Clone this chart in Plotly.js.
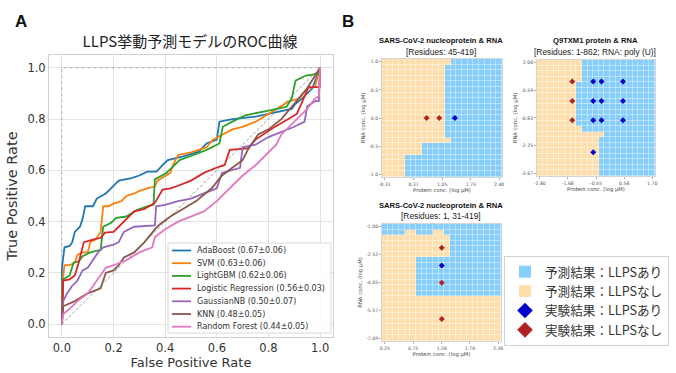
<!DOCTYPE html>
<html><head><meta charset="utf-8">
<script src="https://cdn.plot.ly/plotly-3.0.1.min.js"></script>
<style>html,body{margin:0;padding:0;background:#fff;}#chart{width:676px;height:373px;}</style>
</head><body><div id="chart"></div>
<script>
// ---------------- Panel A : ROC data ----------------
const rocTitle = 'LLPS挙動予測モデルのROC曲線';
const rocNames = ['AdaBoost (0.67±0.06)','SVM (0.63±0.06)','LightGBM (0.62±0.06)','Logistic Regression (0.56±0.03)','GaussianNB (0.50±0.07)','KNN (0.48±0.05)','Random Forest (0.44±0.05)'];
const rocColors = ['#1f77b4','#ff7f0e','#2ca02c','#d62728','#9467bd','#8c564b','#e377c2'];

const adaX = [0,0,0.01,0.03,0.04,0.05,0.07,0.08,0.09,0.12,0.135,0.17,0.19,0.22,0.27,0.30,0.33,0.366,0.39,0.41,0.47,0.53,0.56,0.60,0.61,0.66,0.75,0.84,0.89,0.905,0.93,0.97,1.0];
const adaY = [0,0.22,0.30,0.305,0.32,0.36,0.38,0.41,0.46,0.46,0.49,0.51,0.53,0.56,0.57,0.58,0.595,0.595,0.62,0.64,0.655,0.673,0.705,0.72,0.79,0.80,0.81,0.83,0.84,0.86,0.88,0.92,1.0];

const svmX = [0,0.003,0.01,0.03,0.05,0.06,0.08,0.10,0.11,0.13,0.15,0.16,0.18,0.20,0.23,0.25,0.28,0.30,0.33,0.36,0.37,0.40,0.42,0.43,0.45,0.50,0.53,0.56,0.585,0.62,0.66,0.70,0.75,0.80,0.85,0.88,0.92,0.95,0.98,1.0];
const svmY = [0,0.17,0.23,0.23,0.24,0.27,0.28,0.28,0.32,0.33,0.36,0.46,0.46,0.47,0.48,0.50,0.51,0.52,0.53,0.537,0.56,0.58,0.59,0.62,0.66,0.67,0.68,0.69,0.72,0.74,0.76,0.77,0.79,0.82,0.85,0.87,0.88,0.92,0.925,1.0];

const lgbX = [0,0.005,0.03,0.045,0.065,0.08,0.11,0.13,0.15,0.16,0.19,0.21,0.25,0.29,0.33,0.355,0.36,0.405,0.43,0.456,0.51,0.56,0.61,0.623,0.66,0.71,0.81,0.87,0.89,0.905,0.945,0.995,1.0];
const lgbY = [0,0.175,0.19,0.24,0.245,0.265,0.28,0.285,0.29,0.38,0.395,0.415,0.42,0.445,0.46,0.466,0.565,0.59,0.615,0.64,0.66,0.68,0.705,0.77,0.79,0.815,0.835,0.848,0.88,0.95,0.97,0.977,1.0];

const lrX = [0,0.005,0.03,0.05,0.065,0.085,0.12,0.15,0.167,0.20,0.22,0.25,0.28,0.32,0.36,0.39,0.42,0.45,0.50,0.55,0.61,0.63,0.65,0.72,0.75,0.816,0.88,0.91,0.945,0.955,0.998,1.0];
const lrY = [0,0.17,0.175,0.19,0.24,0.32,0.33,0.337,0.357,0.36,0.38,0.41,0.44,0.45,0.473,0.525,0.53,0.54,0.56,0.59,0.615,0.62,0.68,0.686,0.72,0.764,0.80,0.82,0.90,0.925,0.925,1.0];

const gnbX = [0,0.005,0.02,0.04,0.06,0.08,0.10,0.12,0.14,0.16,0.20,0.22,0.24,0.28,0.36,0.365,0.40,0.45,0.50,0.55,0.60,0.62,0.66,0.69,0.70,0.75,0.80,0.85,0.90,0.94,0.95,0.98,0.995,1.0];
const gnbY = [0,0.09,0.12,0.15,0.17,0.21,0.22,0.25,0.28,0.30,0.31,0.32,0.36,0.38,0.385,0.46,0.465,0.48,0.49,0.51,0.53,0.59,0.60,0.61,0.69,0.70,0.73,0.75,0.77,0.79,0.85,0.87,0.87,1.0];

const knnX = [0,0.005,0.05,0.10,0.15,0.17,0.20,0.22,0.24,0.28,0.32,0.36,0.38,0.42,0.47,0.52,0.58,0.62,0.66,0.70,0.72,0.76,0.80,0.85,0.90,0.95,1.0];
const knnY = [0,0.07,0.09,0.12,0.14,0.20,0.21,0.23,0.26,0.28,0.32,0.37,0.39,0.42,0.45,0.48,0.53,0.58,0.61,0.64,0.68,0.74,0.76,0.80,0.86,0.92,1.0];

const rfX = [0,0.005,0.03,0.06,0.10,0.12,0.15,0.17,0.20,0.25,0.30,0.35,0.36,0.40,0.45,0.50,0.55,0.60,0.65,0.70,0.75,0.80,0.83,0.85,0.90,0.95,0.98,0.995,1.0];
const rfY = [0,0.04,0.06,0.09,0.12,0.15,0.19,0.22,0.23,0.25,0.28,0.30,0.34,0.37,0.40,0.42,0.44,0.48,0.53,0.58,0.62,0.67,0.70,0.74,0.79,0.84,0.88,0.89,1.0];

const chanceX = [0,1], chanceY = [0,1];
const perfectX = [0,0,1], perfectY = [0,1,1];
const rocTicks = [0,0.2,0.4,0.6,0.8,1.0];

// ---------------- Panel B : phase diagram data ----------------
// heatmap 1 : number of "no LLPS" (orange) cells from the left, rows top -> bottom
const hm1Title = 'SARS-CoV-2 nucleoprotein &amp; RNA', hm1Sub = '[Residues: 45-419]';
const hm1XEnds = [-0.31, 2.40], hm1YEnds = [-1.0, 1.0];
const hm1XTicks = ['-0.31','0.37','1.05','1.73','2.40'];
const hm1YTicks = ['1.0','0.5','0.0','-0.5','-1.0'];
const hm1Orange = [12,11,11,11,11,11,11,11,11,11,11,11,11,11,12,7,7,4,4,4,4];
const hm1PosX = [1.35], hm1PosY = [0.0];
const hm1NegX = [0.68, 0.98], hm1NegY = [0.0, 0.0];

// heatmap 2
const hm2Title = 'Q9TXM1 protein &amp; RNA', hm2Sub = '[Residues: 1-862; RNA: poly (U)]';
const hm2XEnds = [-2.80, 1.70], hm2YEnds = [-3.67, 2.00];
const hm2XTicks = ['-2.80','-1.68','-0.55','0.58','1.70'];
const hm2YTicks = ['2.00','0.59','-0.83','-2.25','-3.67'];
const hm2Orange = [8,8,8,8,7,7,7,7,7,7,7,7,8,12,11,11,11,11,11,11,11];
const hm2PosX = [-0.66,-0.33,0.53,-0.66,-0.33,0.53,-0.66,-0.33,0.53,-0.66];
const hm2PosY = [1.04,1.04,1.04,0.04,0.04,0.04,-0.95,-0.95,-0.95,-2.59];
const hm2NegX = [-1.50,-1.50,-1.50], hm2NegY = [1.04,0.04,-0.95];

// heatmap 3 : O = no LLPS (orange), B = LLPS (blue), rows top -> bottom
const hm3Title = 'SARS-CoV-2 nucleoprotein &amp; RNA', hm3Sub = '[Residues: 1, 31-419]';
const hm3XEnds = [0.25, 2.26], hm3YEnds = [-7.09, -1.00];
const hm3XTicks = ['0.25','0.75','1.26','1.76','2.26'];
const hm3YTicks = ['-1.00','-2.52','-4.05','-5.57','-7.09'];
const hm3Rows = [
 'BBBBBBBBBBBBBBBBBBBBB',
 'BBBBOOBBBOOBBBBBBBBBB',
 'OOOOOOOOOOOOBBBBBBBBB',
 'OOOOOOOOOOOOBBBBBBBBB',
 'OOOOOOOOOOOOBBBBBBBBB',
 'OOOOOOOOOOOOBBBBBBBBB',
 'OOOOOOBBBBBBBBBBBBBBB',
 'OOOOOOBBBBBBBBBBBBBBB',
 'OOOOOOBBBBBBBBBBBBBBB',
 'OOOOOOBBBBBBBBBBBBBBB',
 'OOOOOOBBBBBBBBBBBBBBB',
 'OOOOOOBBBBBBBBBBBBBBB',
 'OOOOOOBBBBBBBBBBBBBBB',
 'OOOOOOOOOOOOOOOOOOOOO',
 'OOOOOOOOOOOOOOOOOOOOO',
 'OOOOOOOOOOOOOOOOOOOOO',
 'OOOOOOOOOOOOOOOOOOOOO',
 'OOOOOOOOOOOOOOOOOOOOO',
 'OOOOOOOOOOOOOOOOOOOOO',
 'OOOOOOOOOOOOOOOOOOOOO',
 'OOOOOOOOOOOOOOOOOOOOO'];
const hm3PosX = [1.26], hm3PosY = [-3.11];
const hm3NegX = [1.26,1.26,1.26], hm3NegY = [-2.14,-4.06,-6.04];

const legendLabels = ['予測結果：LLPSあり','予測結果：LLPSなし','実験結果：LLPSあり','実験結果：LLPSなし'];
const xTitleB = 'Protein conc. (log μM)', yTitleB = 'RNA conc. (log μM)';

// ---------------- styling ----------------
const W = 676, H = 373;
const px = p => p / W, py = p => 1 - p / H;
const C_BLUE_CELL = '#87CEFA', C_ORANGE_CELL = '#FFDEAD';
const C_POS = '#0000CD', C_NEG = '#B22222';
const N = 21;

function zFromCounts(counts) { // rows top->bottom -> z bottom->top
  return counts.map(n => Array.from({length: N}, (_, j) => j < n ? 0 : 1)).reverse();
}
function zFromRows(rows) {
  return rows.map(r => r.split('').map(c => c === 'O' ? 0 : 1)).reverse();
}

const traces = [];
const rocX = [adaX, svmX, lgbX, lrX, gnbX, knnX, rfX];
const rocY = [adaY, svmY, lgbY, lrY, gnbY, knnY, rfY];

traces.push({x: perfectX, y: perfectY, mode: 'lines', line: {color: 'rgba(0,0,0,0.35)', width: 0.7, dash: 'dot'}, showlegend: false, hoverinfo: 'skip', xaxis: 'x', yaxis: 'y'});
traces.push({x: chanceX, y: chanceY, mode: 'lines', line: {color: 'rgba(0,0,0,0.55)', width: 0.7, dash: '3px,2px'}, showlegend: false, hoverinfo: 'skip', xaxis: 'x', yaxis: 'y'});
rocNames.forEach((nm, i) => {
  traces.push({x: rocX[i], y: rocY[i], name: nm, mode: 'lines', line: {color: rocColors[i], width: 1.8}, showlegend: false, xaxis: 'x', yaxis: 'y'});
});

const hms = [
  {z: zFromCounts(hm1Orange), xe: hm1XEnds, ye: hm1YEnds, ax: '2', pos: [hm1PosX, hm1PosY], neg: [hm1NegX, hm1NegY]},
  {z: zFromCounts(hm2Orange), xe: hm2XEnds, ye: hm2YEnds, ax: '3', pos: [hm2PosX, hm2PosY], neg: [hm2NegX, hm2NegY]},
  {z: zFromRows(hm3Rows),     xe: hm3XEnds, ye: hm3YEnds, ax: '4', pos: [hm3PosX, hm3PosY], neg: [hm3NegX, hm3NegY]}
];
hms.forEach(h => {
  const dx = (h.xe[1] - h.xe[0]) / (N - 1), dy = (h.ye[1] - h.ye[0]) / (N - 1);
  h.dx = dx; h.dy = dy;
  traces.push({type: 'heatmap', z: h.z, x0: h.xe[0], dx: dx, y0: h.ye[0], dy: dy,
    colorscale: [[0, C_ORANGE_CELL], [1, C_BLUE_CELL]], zmin: 0, zmax: 1, showscale: false,
    xgap: 0.4, ygap: 0.4, hoverinfo: 'skip', xaxis: 'x' + h.ax, yaxis: 'y' + h.ax});
  traces.push({x: h.neg[0], y: h.neg[1], mode: 'markers', marker: {symbol: 'diamond', size: 4.6, color: C_NEG}, showlegend: false, xaxis: 'x' + h.ax, yaxis: 'y' + h.ax});
  traces.push({x: h.pos[0], y: h.pos[1], mode: 'markers', marker: {symbol: 'diamond', size: 4.6, color: C_POS}, showlegend: false, xaxis: 'x' + h.ax, yaxis: 'y' + h.ax});
});
// legend entries for panel B
const legSyms = ['square', 'square', 'diamond', 'diamond'];
const legCols = [C_BLUE_CELL, C_ORANGE_CELL, C_POS, C_NEG];
legendLabels.forEach((lb, i) => {
  traces.push({x: [null], y: [null], name: lb, mode: 'markers', marker: {symbol: legSyms[i], size: 12, color: legCols[i]}, legend: 'legend2', showlegend: true, xaxis: 'x2', yaxis: 'y2'});
});

const layout = {
  width: W, height: H, margin: {l: 0, r: 0, t: 0, b: 0},
  paper_bgcolor: '#fff', plot_bgcolor: '#fff',
  font: {family: 'DejaVu Sans', color: '#333'},
  showlegend: true,
  title: {text: rocTitle, x: px(190), xanchor: 'center', y: py(42), yanchor: 'middle', xref: 'paper', yref: 'paper',
    font: {family: 'Noto Sans CJK JP', size: 15, color: '#222'}},
  xaxis: {domain: [px(49), px(333)], range: [-0.05, 1.05], tickvals: rocTicks, tickformat: '.1f', gridcolor: '#e3e3e3',
    showline: true, mirror: true, linecolor: '#cfcfcf', zeroline: false, ticks: '', tickfont: {size: 11.5, color: '#333'},
    title: {text: 'False Positive Rate', font: {size: 13, color: '#333'}, standoff: 4}, anchor: 'y', automargin: false},
  yaxis: {domain: [py(337), py(55)], range: [-0.05, 1.05], tickvals: rocTicks, tickformat: '.1f', gridcolor: '#e3e3e3',
    showline: true, mirror: true, linecolor: '#cfcfcf', zeroline: false, ticks: '', tickfont: {size: 11.5, color: '#333'},
    title: {text: 'True Positive Rate', font: {size: 14.5, color: '#333'}, standoff: 6}, anchor: 'x', automargin: false},
  legend2: {x: px(504), y: py(256), xanchor: 'left', yanchor: 'top', bgcolor: '#fff', bordercolor: '#d0d0d0', borderwidth: 1,
    font: {family: 'Noto Sans CJK JP', size: 12.6, color: '#333'}, itemsizing: 'constant', tracegroupgap: 0},
  shapes: [], annotations: []
};

const hmDomains = [
  {x: [382, 502], y: [177, 59]},
  {x: [537, 655], y: [176, 60]},
  {x: [382, 501], y: [341, 224]}
];
const hmTicks = [[hm1XTicks, hm1YTicks], [hm2XTicks, hm2YTicks], [hm3XTicks, hm3YTicks]];
hms.forEach((h, k) => {
  const d = hmDomains[k];
  const common = {showgrid: false, zeroline: false, showline: true, mirror: true, linecolor: '#d5d5d5', linewidth: 1,
    ticks: 'outside', ticklen: 2, tickwidth: 0.6, tickcolor: '#777', tickfont: {size: 4.6, color: '#555', family: 'DejaVu Sans'}, automargin: false, fixedrange: true};
  layout['xaxis' + h.ax] = Object.assign({}, common, {domain: [px(d.x[0]), px(d.x[1])], anchor: 'y' + h.ax,
    range: [h.xe[0] - h.dx / 2, h.xe[1] + h.dx / 2], tickvals: hmTicks[k][0].map(Number), ticktext: hmTicks[k][0],
    title: {text: xTitleB, font: {size: 5.3, color: '#444'}, standoff: 2}});
  layout['yaxis' + h.ax] = Object.assign({}, common, {domain: [py(d.y[0]), py(d.y[1])], anchor: 'x' + h.ax,
    range: [h.ye[0] - h.dy / 2, h.ye[1] + h.dy / 2], tickvals: hmTicks[k][1].map(Number), ticktext: hmTicks[k][1],
    title: {text: yTitleB, font: {size: 5.3, color: '#444'}, standoff: 3}});
});

// panel letters and heatmap titles
const ann = (t, x, y, size, opts) => Object.assign({text: t, x: px(x), y: py(y), xref: 'paper', yref: 'paper', showarrow: false,
  xanchor: 'center', yanchor: 'middle', font: {size: size, color: '#111', family: 'Liberation Sans'}}, opts || {});
layout.annotations.push(ann('<b>A</b>', 21, 21, 17));
layout.annotations.push(ann('<b>B</b>', 348, 21, 17));
const titleRows = [[hm1Title, hm1Sub, 441, 41, 52], [hm2Title, hm2Sub, 595, 41, 52], [hm3Title, hm3Sub, 441, 205, 216]];
titleRows.forEach(r => {
  layout.annotations.push(ann('<b>' + r[0] + '</b>', r[2], r[3], 7.6));
  layout.annotations.push(ann(r[1], r[2], r[4], 8.4, {font: {size: 8.4, color: '#222', family: 'Liberation Sans'}}));
});

// manual legend for panel A (compact matplotlib-style)
layout.shapes.push({type: 'rect', xref: 'paper', yref: 'paper', x0: px(168), x1: px(331), y0: py(333), y1: py(243),
  line: {color: '#d8d8d8', width: 1}, fillcolor: 'rgba(255,255,255,0.85)', layer: 'above'});
const legRow0 = 250.5, legStep = 12.7;
rocNames.forEach((nm, i) => {
  const yy = legRow0 + i * legStep;
  layout.shapes.push({type: 'line', xref: 'paper', yref: 'paper', x0: px(172), x1: px(191), y0: py(yy), y1: py(yy),
    line: {color: rocColors[i], width: 1.8}, layer: 'above'});
  layout.annotations.push({text: nm, x: px(195), y: py(yy), xref: 'paper', yref: 'paper', showarrow: false,
    xanchor: 'left', yanchor: 'middle', font: {size: 8, color: '#333', family: 'DejaVu Sans'}});
});

Plotly.newPlot('chart', traces, layout, {staticPlot: true, displayModeBar: false});
</script>
</body></html>
